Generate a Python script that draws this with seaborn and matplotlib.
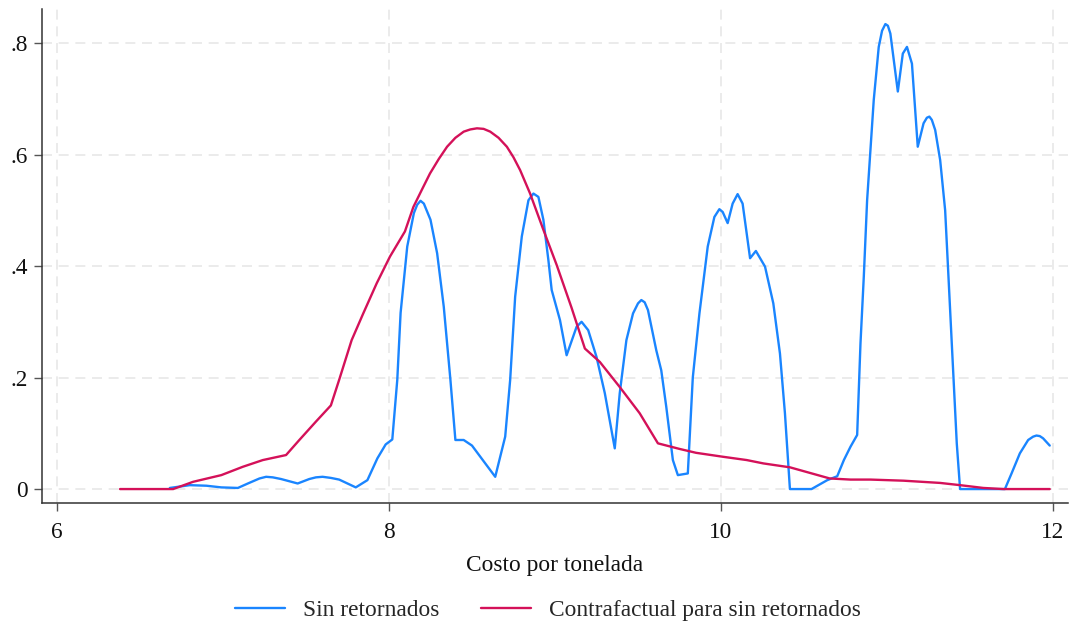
import matplotlib
matplotlib.use("Agg")
import matplotlib.pyplot as plt
import seaborn as sns
import pandas as pd
from matplotlib.lines import Line2D

# ---- data ----
blue_x = [6.68, 6.80, 6.90, 6.99, 7.09, 7.15, 7.22, 7.26, 7.30, 7.35, 7.45, 7.52, 7.56, 7.60,
          7.65, 7.70, 7.80, 7.87, 7.93, 7.98, 8.02, 8.05, 8.07, 8.11, 8.15, 8.17, 8.19, 8.21,
          8.25, 8.29, 8.33, 8.37, 8.40, 8.45, 8.50, 8.55, 8.64, 8.70, 8.73, 8.76, 8.80, 8.84,
          8.87, 8.90, 8.93, 8.96, 8.98, 9.03, 9.07, 9.13, 9.16, 9.20, 9.25, 9.30, 9.36, 9.39,
          9.43, 9.47, 9.50, 9.52, 9.54, 9.56, 9.61, 9.64, 9.67, 9.71, 9.74, 9.80, 9.83, 9.87,
          9.92, 9.96, 9.99, 10.01, 10.04, 10.07, 10.10, 10.13, 10.175, 10.21, 10.265, 10.315,
          10.355, 10.385, 10.415, 10.545, 10.64, 10.70, 10.74, 10.78, 10.82, 10.84, 10.86,
          10.88, 10.90, 10.92, 10.95, 10.97, 10.99, 11.005, 11.02, 11.065, 11.095, 11.12,
          11.15, 11.185, 11.22, 11.24, 11.255, 11.27, 11.29, 11.32, 11.35, 11.37, 11.39, 11.42,
          11.44, 11.71, 11.75, 11.80, 11.85, 11.88, 11.90, 11.92, 11.94, 11.98]
blue_y = [0.002, 0.007, 0.006, 0.003, 0.002, 0.010, 0.019, 0.022, 0.021, 0.018, 0.010, 0.018,
          0.021, 0.022, 0.020, 0.017, 0.003, 0.016, 0.055, 0.080, 0.089, 0.196, 0.316, 0.435,
          0.495, 0.510, 0.517, 0.512, 0.483, 0.423, 0.327, 0.196, 0.088, 0.088, 0.078, 0.058,
          0.022, 0.094, 0.196, 0.345, 0.453, 0.518, 0.530, 0.524, 0.483, 0.411, 0.357, 0.303,
          0.240, 0.291, 0.300, 0.285, 0.237, 0.172, 0.073, 0.172, 0.267, 0.315, 0.333, 0.339,
          0.335, 0.321, 0.249, 0.213, 0.148, 0.052, 0.025, 0.028, 0.200, 0.315, 0.435, 0.488,
          0.502, 0.497, 0.477, 0.512, 0.529, 0.512, 0.414, 0.427, 0.399, 0.333, 0.243, 0.136,
          0.0, 0.0, 0.016, 0.023, 0.052, 0.076, 0.097, 0.261, 0.381, 0.518, 0.608, 0.698,
          0.793, 0.822, 0.834, 0.831, 0.817, 0.713, 0.781, 0.793, 0.763, 0.614, 0.656, 0.666,
          0.668, 0.662, 0.644, 0.590, 0.500, 0.381, 0.261, 0.082, 0.0, 0.0, 0.028, 0.064,
          0.088, 0.094, 0.096, 0.095, 0.091, 0.078]

red_x = [6.38, 6.70, 6.82, 6.99, 7.12, 7.24, 7.38, 7.46, 7.56, 7.65, 7.70, 7.775, 7.845, 7.926,
         8.006, 8.096, 8.147, 8.20, 8.247, 8.30, 8.35, 8.40, 8.45, 8.49, 8.53, 8.57, 8.61,
         8.66, 8.71, 8.75, 8.79, 8.85, 8.93, 9.01, 9.10, 9.18, 9.27, 9.39, 9.51, 9.62, 9.75,
         9.85, 10.01, 10.155, 10.255, 10.415, 10.535, 10.655, 10.78, 10.90, 11.10, 11.32,
         11.44, 11.58, 11.70, 11.98]
red_y = [0.0, 0.0, 0.013, 0.025, 0.040, 0.052, 0.061, 0.088, 0.121, 0.150, 0.196, 0.267, 0.315,
         0.369, 0.417, 0.462, 0.506, 0.538, 0.566, 0.592, 0.614, 0.630, 0.641, 0.645, 0.647,
         0.646, 0.641, 0.630, 0.614, 0.595, 0.572, 0.530, 0.465, 0.402, 0.325, 0.252, 0.228,
         0.183, 0.136, 0.082, 0.072, 0.065, 0.058, 0.052, 0.046, 0.039, 0.029, 0.019, 0.017,
         0.017, 0.015, 0.011, 0.007, 0.002, 0.0, 0.0]

x_ticks = [6, 8, 10, 12]
x_tick_labels = ["6", "8", "10", "12"]
y_ticks = [0, 0.2, 0.4, 0.6, 0.8]
y_tick_labels = ["0", ".2", ".4", ".6", ".8"]

series_names = ["Sin retornados", "Contrafactual para sin retornados"]
colors = ["#1A85FF", "#D41159"]
x_label = "Costo por tonelada"

# ---- plotting ----
sns.set_theme(style="white")
plt.rcParams["font.family"] = ["Liberation Serif", "DejaVu Serif"]

FS = 16.8
fig = plt.figure(figsize=(10.73, 6.29), dpi=100)
ax = fig.add_axes([42 / 1073, 1 - 503 / 629, (1068 - 42) / 1073, (503 - 9) / 629])

df_blue = pd.DataFrame({"x": blue_x, "y": blue_y})
df_red = pd.DataFrame({"x": red_x, "y": red_y})
sns.lineplot(data=df_blue, x="x", y="y", ax=ax, color=colors[0], lw=1.7, sort=False,
             estimator=None, zorder=3)
sns.lineplot(data=df_red, x="x", y="y", ax=ax, color=colors[1], lw=1.7, sort=False,
             estimator=None, zorder=4)

ax.set_xlim(5.91, 12.09)
ax.set_ylim(-0.025, 0.861)
ax.set_xticks(x_ticks)
ax.set_xticklabels(x_tick_labels)
ax.set_yticks(y_ticks)
ax.set_yticklabels(y_tick_labels)

ax.grid(True, color="#e8e8e8", lw=1.2, ls=(0, (6, 4)))
ax.set_axisbelow(True)

for side in ["top", "right"]:
    ax.spines[side].set_visible(False)
for side in ["left", "bottom"]:
    ax.spines[side].set_color("#333333")
    ax.spines[side].set_linewidth(1.1)

ax.tick_params(axis="both", which="major", direction="out", length=6, width=1,
               color="#555555", labelsize=FS, labelcolor="#111111",
               left=True, bottom=True)
ax.tick_params(axis="y", pad=4)
ax.tick_params(axis="x", pad=8)

ax.set_xlabel(x_label, fontsize=FS, color="#111111", labelpad=8)
ax.set_ylabel("")

handles = [Line2D([0], [0], color=colors[0], lw=1.7),
           Line2D([0], [0], color=colors[1], lw=1.7)]
fig.legend(handles, series_names, loc="center", bbox_to_anchor=(548 / 1073, 1 - 610 / 629),
           ncol=2, frameon=False, fontsize=FS, handlelength=2.15, columnspacing=1.8,
           handletextpad=0.75)

fig.savefig("out.png", dpi=100)
